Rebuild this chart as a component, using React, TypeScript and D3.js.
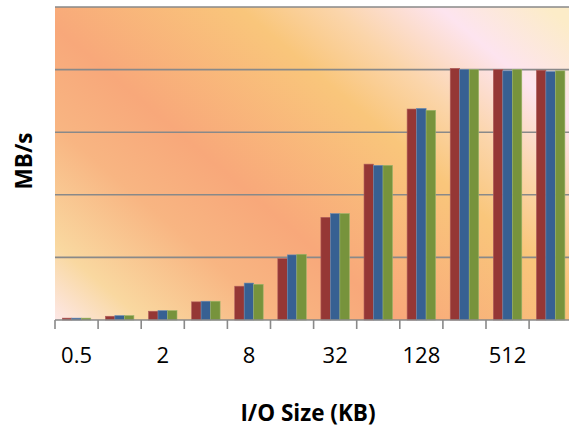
import React from "react";
import * as d3 from "d3";

const categories = ["0.5", "1", "2", "4", "8", "16", "32", "64", "128", "256", "512", "1024"];
const seriesNames = ["A", "B", "C"];
const seriesA = [0.03, 0.06, 0.14, 0.29, 0.54, 0.98, 1.64, 2.49, 3.37, 4.02, 4.0, 3.99];
const seriesB = [0.03, 0.07, 0.15, 0.3, 0.59, 1.04, 1.7, 2.47, 3.38, 4.0, 3.98, 3.97];
const seriesC = [0.03, 0.07, 0.15, 0.3, 0.57, 1.05, 1.7, 2.47, 3.35, 4.0, 4.0, 3.98];
const gridValues = [1, 2, 3, 4, 5];
const tickLabelCats = ["0.5", "2", "8", "32", "128", "512"];
const colors = ["#953735", "#376092", "#77933C"];
const strokes = ["#b0605e", "#6a8bb3", "#9bb46a"];

const W = 569;
const H = 430;
const plotLeft = 55;
const plotRight = 55 + 12 * 43.1;
const plotTop = 7;
const plotBottom = 320;

export default function App() {
  const x = d3.scaleBand<string>().domain(categories).range([plotLeft, plotRight]).paddingInner(0).paddingOuter(0);
  const inner = d3.scaleBand<string>().domain(seriesNames).range([0, x.bandwidth()]).paddingInner(0).paddingOuter(0.77);
  const y = d3.scaleLinear().domain([0, 5]).range([plotBottom, plotTop]);
  const allSeries = [seriesA, seriesB, seriesC];
  const font = "'Open Sans', sans-serif";

  // gradient axis direction
  const n = [0.65, -0.76];
  const s0 = -210;
  const s1 = 350;
  const stops: [number, string][] = [
    [-210, "#fde8ea"],
    [-150, "#f9d8a0"],
    [-60, "#f8b582"],
    [15, "#f8a87a"],
    [150, "#f9c67b"],
    [210, "#fbd5aa"],
    [280, "#fde4ef"],
    [350, "#fcecc8"],
  ];

  return (
    <svg width={W} height={H} style={{ position: "absolute", left: 0, top: 0, background: "#fff" }}>
      <defs>
        <linearGradient
          id="bg"
          gradientUnits="userSpaceOnUse"
          x1={s0 * n[0]}
          y1={s0 * n[1]}
          x2={s1 * n[0]}
          y2={s1 * n[1]}
        >
          {stops.map(([s, c], i) => (
            <stop key={i} offset={(s - s0) / (s1 - s0)} stopColor={c} />
          ))}
        </linearGradient>
      </defs>
      <rect x={plotLeft} y={plotTop} width={W - plotLeft} height={plotBottom - plotTop} fill="url(#bg)" />
      {gridValues.map((g) => (
        <line key={g} x1={plotLeft} x2={W} y1={y(g)} y2={y(g)} stroke="#898989" strokeWidth={1.6} />
      ))}
      {allSeries.map((vals, si) =>
        vals.map((v, ci) => {
          const bx = (x(categories[ci]) as number) + (inner(seriesNames[si]) as number);
          return (
            <rect
              key={`${si}-${ci}`}
              x={bx}
              y={y(v)}
              width={inner.bandwidth()}
              height={plotBottom - y(v)}
              fill={colors[si]}
              stroke={strokes[si]}
              strokeWidth={0.6}
            />
          );
        })
      )}
      <line x1={plotLeft} x2={W} y1={plotBottom} y2={plotBottom} stroke="#898989" strokeWidth={1.6} />
      {categories.map((c) => (
        <line
          key={c}
          x1={x(c) as number}
          x2={x(c) as number}
          y1={plotBottom}
          y2={plotBottom + 9}
          stroke="#898989"
          strokeWidth={1.6}
        />
      ))}
      {tickLabelCats.map((c) => (
        <text
          key={c}
          x={(x(c) as number) + x.bandwidth() / 2}
          y={363}
          textAnchor="middle"
          fontFamily={font}
          fontSize={22}
          fill="#000"
        >
          {c}
        </text>
      ))}
      <text x={308} y={421} textAnchor="middle" fontFamily={font} fontSize={22.5} fontWeight="bold" fill="#000">
        I/O Size (KB)
      </text>
      <text
        transform={`translate(32,161) rotate(-90)`}
        textAnchor="middle"
        fontFamily={font}
        fontSize={22.5}
        fontWeight="bold"
        fill="#000"
      >
        MB/s
      </text>
    </svg>
  );
}
